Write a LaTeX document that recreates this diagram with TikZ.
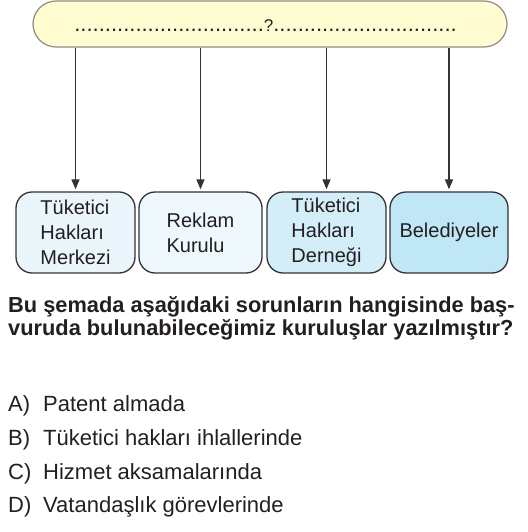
\documentclass[tikz,border=0pt]{standalone}
\usepackage{fontspec}
\setmainfont{Liberation Sans}
\usetikzlibrary{arrows.meta,positioning}

\definecolor{bannerfill}{HTML}{FFFCD2}
\definecolor{bannerline}{HTML}{8C8C84}
\definecolor{linegray}{HTML}{333333}
\definecolor{textdark}{HTML}{231F20}
\definecolor{mavi1}{HTML}{EBF6FC}
\definecolor{mavi2}{HTML}{EFF8FD}
\definecolor{mavi3}{HTML}{D3EEF9}
\definecolor{mavi4}{HTML}{BFE7F6}

\newcommand{\noktalar}[1]{\foreach \n in {1,...,#1}{.}}

\tikzset{
  kutu/.style={draw=linegray, line width=1.3pt, rounded corners=16pt,
    minimum width=119pt, minimum height=81pt, inner sep=0pt,
    align=left, text=textdark, font=\fontsize{20}{25}\selectfont},
  ok/.style={draw=linegray, line width=1.5pt,
    -{Triangle[length=10pt,width=8pt]}, shorten >=2pt},
  secenek/.style={anchor=base west, inner sep=0pt, text=textdark,
    font=\fontsize{22}{26}\selectfont},
}

\begin{document}
\begin{tikzpicture}[x=1pt,y=-1pt]
\useasboundingbox (0,0) rectangle (527,532);

% top banner
\node[draw=bannerline, fill=bannerfill, line width=1.2pt, rounded corners=23pt,
  minimum width=474pt, minimum height=46pt, inner sep=0pt] (soru) at (270,24) {};
\node[anchor=base, inner sep=0pt, text=textdark, font=\fontsize{22}{24}\selectfont]
  (bosluk) at (265.5,32) {\noktalar{31}{\fontsize{17}{20}\selectfont ?}\noktalar{30}};

% boxes
\node[kutu, fill=mavi1] (merkez) at (75.5,232.5) {Tüketici\\Hakları\\Merkezi};
\node[kutu, fill=mavi2, minimum width=123pt] (reklam) at (200.5,232.5) {Reklam\\Kurulu};
\node[kutu, fill=mavi3] (dernek) at (326.5,232.5) {Tüketici\\Hakları\\Derneği};
\node[kutu, fill=mavi4, minimum width=118pt] (belediye) at (449,232.5) {Belediyeler};

% arrows
\foreach \k in {merkez,reklam,dernek,belediye}
  \draw[ok] (soru.south -| \k.north) -- (\k.north);

% question
\node[secenek, font=\bfseries\fontsize{21.8}{26}\selectfont] (soru1) at (8,312)
  {Bu şemada aşağıdaki sorunların hangisinde baş-};
\node[secenek, font=\bfseries\fontsize{21.8}{26}\selectfont] (soru2) at (8,335)
  {vuruda bulunabileceğimiz kuruluşlar yazılmıştır?};

% options
\foreach \h/\t [count=\i] in {A/Patent almada, B/Tüketici hakları ihlallerinde,
    C/Hizmet aksamalarında, D/Vatandaşlık görevlerinde} {
  \node[secenek] (harf\i) at (8,378+33.7*\i) {\h)};
  \node[secenek] (metin\i) at (43,378+33.7*\i) {\t};
}

\end{tikzpicture}
\end{document}
